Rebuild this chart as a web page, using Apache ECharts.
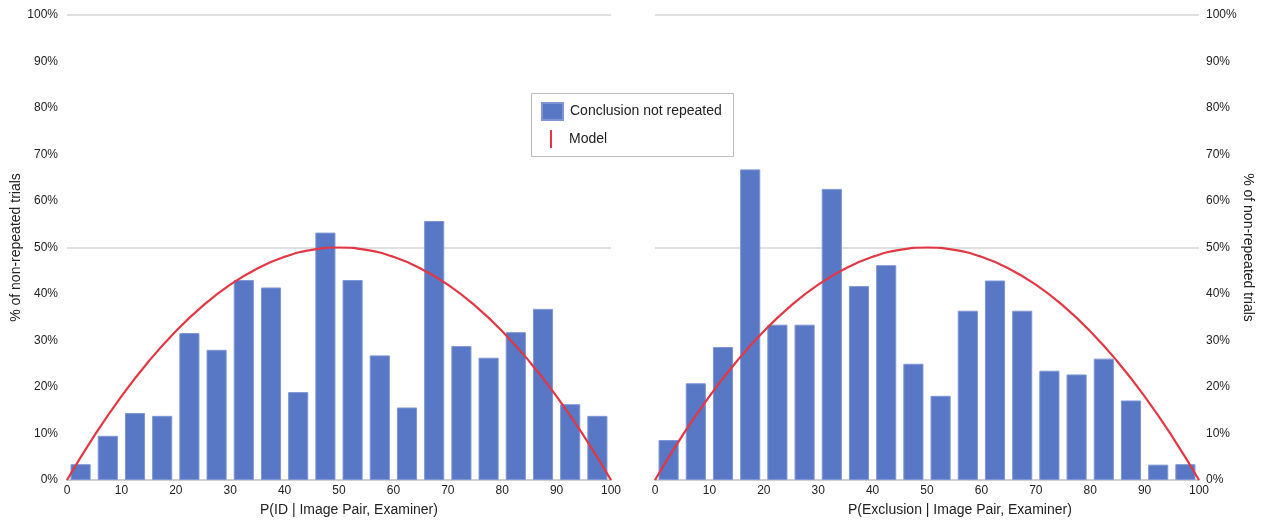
<!DOCTYPE html>
<html>
<head>
<meta charset="utf-8">
<script src="https://cdn.jsdelivr.net/npm/echarts@6/dist/echarts.min.js"></script>
<style>
  html, body { margin: 0; padding: 0; background: #fff; }
  #chart { width: 1263px; height: 523px; }
</style>
</head>
<body>
<div id="chart"></div>
<script>
// Bins of width 5 covering 0–100
const bins = ['0–5','5–10','10–15','15–20','20–25','25–30','30–35','35–40','40–45','45–50',
              '50–55','55–60','60–65','65–70','70–75','75–80','80–85','85–90','90–95','95–100'];

// Share of trials whose conclusion was not repeated (%), per bin
const idNotRepeated = [3.4, 9.5, 14.4, 13.8, 31.6, 28.0, 43.0, 41.4, 18.9, 53.2,
                       43.0, 26.8, 15.6, 55.7, 28.8, 26.3, 31.8, 36.8, 16.3, 13.8];
const exclNotRepeated = [8.6, 20.8, 28.6, 66.8, 33.4, 33.4, 62.6, 41.7, 46.2, 25.0,
                         18.1, 36.4, 42.9, 36.4, 23.5, 22.7, 26.1, 17.1, 3.3, 3.4];

// Model curve (%), sampled every 5 points of probability
const modelX = [0, 5, 10, 15, 20, 25, 30, 35, 40, 45, 50, 55, 60, 65, 70, 75, 80, 85, 90, 95, 100];
const modelY = [0, 9.5, 18, 25.5, 32, 37.5, 42, 45.5, 48, 49.5, 50, 49.5, 48, 45.5, 42, 37.5, 32, 25.5, 18, 9.5, 0];

const xTitles = ['P(ID | Image Pair, Examiner)', 'P(Exclusion | Image Pair, Examiner)'];
const yTitle = '% of non-repeated trials';

const FONT = '"Liberation Sans", Arial, Helvetica, sans-serif';
const BAR = '#5877c4';
const RED = '#e23744';
const TXT = '#222';

const grids = [
  { left: 67, top: 15, width: 544, height: 465 },
  { left: 655, top: 15, width: 544, height: 465 }
];

function modelPoints() { return modelX.map((x, i) => [x, modelY[i]]); }

const xAxes = [];
const yAxes = [];
grids.forEach((g, gi) => {
  // band axis carrying the bars
  xAxes.push({
    type: 'category', gridIndex: gi, position: 'bottom', data: bins, show: false, boundaryGap: true
  });
  // numeric axis carrying tick labels and the model curve
  xAxes.push({
    type: 'value', gridIndex: gi, position: 'bottom', min: 0, max: 100, interval: 10,
    axisLine: { show: true, lineStyle: { color: '#cfcfcf', width: 2 } },
    axisTick: { show: false },
    splitLine: { show: false },
    axisLabel: { color: TXT, fontSize: 12, fontFamily: FONT, margin: 5 }
  });
  yAxes.push({
    type: 'value', gridIndex: gi, min: 0, max: 100, interval: 10,
    position: gi === 0 ? 'left' : 'right',
    name: yTitle, nameLocation: 'middle',
    nameRotate: gi === 0 ? 90 : -90, nameGap: 42,
    nameTextStyle: { color: TXT, fontSize: 14, fontFamily: FONT },
    axisLine: { show: false }, axisTick: { show: false },
    axisLabel: { color: TXT, fontSize: 12, fontFamily: FONT, margin: gi === 0 ? 9 : 7,
                 formatter: '{value}%' },
    splitLine: { show: true, lineStyle: { width: 1.5,
      color: ['#d6d6d6', 'rgba(0,0,0,0)', 'rgba(0,0,0,0)', 'rgba(0,0,0,0)', 'rgba(0,0,0,0)'] } }
  });
});

const barStyle = { color: BAR, borderColor: '#7e96d3', borderWidth: 1 };

const series = [
  { name: 'Conclusion not repeated', type: 'bar', xAxisIndex: 0, yAxisIndex: 0,
    data: idNotRepeated, barCategoryGap: '26%', itemStyle: barStyle },
  { name: 'Model', type: 'line', xAxisIndex: 1, yAxisIndex: 0, data: modelPoints(),
    smooth: true, showSymbol: false, lineStyle: { color: RED, width: 2.2 }, itemStyle: { color: RED } },
  { name: 'Conclusion not repeated', type: 'bar', xAxisIndex: 2, yAxisIndex: 1,
    data: exclNotRepeated, barCategoryGap: '26%', itemStyle: barStyle },
  { name: 'Model', type: 'line', xAxisIndex: 3, yAxisIndex: 1, data: modelPoints(),
    smooth: true, showSymbol: false, lineStyle: { color: RED, width: 2.2 }, itemStyle: { color: RED } }
];

const chart = echarts.init(document.getElementById('chart'), null, { renderer: 'canvas' });
chart.setOption({
  animation: false,
  backgroundColor: '#fff',
  grid: grids,
  xAxis: xAxes,
  yAxis: yAxes,
  legend: [
    { data: [{ name: 'Conclusion not repeated', icon: 'rect' }],
      left: 541, top: 102, itemWidth: 21, itemHeight: 17, padding: 0,
      textStyle: { color: TXT, fontSize: 14, fontFamily: FONT, padding: [0, 0, 0, 2] },
      selectedMode: false },
    { data: [{ name: 'Model', icon: 'rect' }],
      left: 550, top: 130, itemWidth: 2, itemHeight: 18, padding: 0,
      textStyle: { color: TXT, fontSize: 14, fontFamily: FONT, padding: [0, 0, 0, 12] },
      selectedMode: false }
  ],
  graphic: [
    { type: 'rect', left: 531, top: 93, shape: { width: 202, height: 63 }, z: -1,
      style: { fill: '#fff', stroke: '#bdbdbd', lineWidth: 1 } },
    { type: 'text', left: 260, top: 503,
      style: { text: xTitles[0], fill: TXT, font: '14px ' + FONT } },
    { type: 'text', left: 848, top: 503,
      style: { text: xTitles[1], fill: TXT, font: '14px ' + FONT } }
  ],
  series: series
});
</script>
</body>
</html>
